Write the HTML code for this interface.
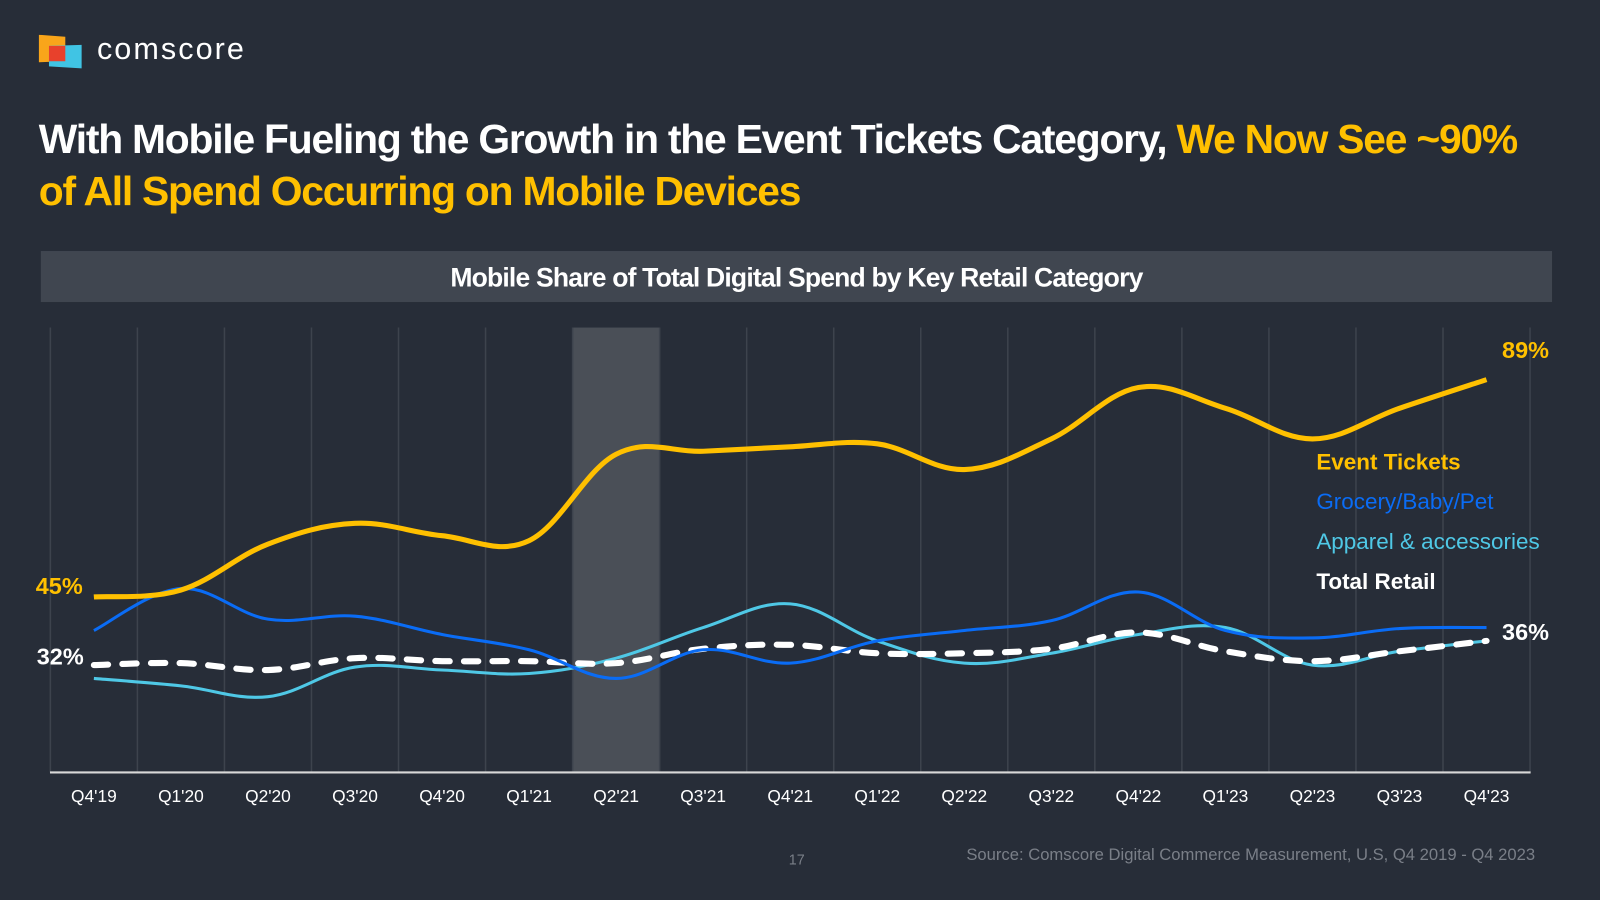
<!DOCTYPE html>
<html><head><meta charset="utf-8">
<style>
html,body{margin:0;padding:0;background:#272d38;width:1600px;height:900px;overflow:hidden;font-family:"Liberation Sans",sans-serif}
#wrap{position:absolute;left:0;top:0;width:1568px;height:882px;transform:scale(1.020408);transform-origin:0 0}
.t{position:absolute;white-space:nowrap}
</style></head><body>
<div id="wrap">
<svg class="t" style="left:38px;top:34px" width="44" height="34">
<polygon points="0,0 26,2 26,26 0,27" fill="#f9a51a"/>
<polygon points="10,11 42,10 42,33 10,31" fill="#40c4e4"/>
<polygon points="10,11 26,11 26,26 10,26" fill="#e8412c"/>
</svg>
<div class="t" style="left:95px;top:32px;font-size:30px;color:#fff;letter-spacing:2px">comscore</div>
<div class="t" style="left:38px;top:112px;font-size:40px;font-weight:bold;color:#fff;letter-spacing:-1.2px;line-height:51px">With Mobile Fueling the Growth in the Event Tickets Category, <span style="color:#ffc000">We Now See ~90%</span><br><span style="color:#ffc000">of All Spend Occurring on Mobile Devices</span></div>
<div class="t" style="left:40px;top:246px;width:1481px;height:50px;background:#404650;color:#fff;font-size:26px;font-weight:bold;letter-spacing:-0.8px;text-align:center;line-height:52px">Mobile Share of Total Digital Spend by Key Retail Category</div>
<svg id="chart" class="t" style="left:0;top:0" width="1568" height="882"></svg>
<div class="t" style="left:773px;top:834px;font-size:14px;color:#7a7f88">17</div>
<div class="t" style="left:947px;top:829px;font-size:16.3px;color:#7a7f88">Source: Comscore Digital Commerce Measurement, U.S, Q4 2019 - Q4 2023</div>
<div class="t" style="left:1290px;top:440px;font-size:22px;font-weight:bold;color:#ffc000">Event Tickets</div>
<div class="t" style="left:1290px;top:479px;font-size:22px;color:#0a6cf5">Grocery/Baby/Pet</div>
<div class="t" style="left:1290px;top:518px;font-size:22px;color:#4fc8e6">Apparel &amp; accessories</div>
<div class="t" style="left:1290px;top:557px;font-size:22px;font-weight:bold;color:#fff">Total Retail</div>
<div class="t" style="left:1472px;top:330px;font-size:23px;font-weight:bold;color:#ffc000">89%</div>
<div class="t" style="left:1472px;top:606px;font-size:23px;font-weight:bold;color:#fff">36%</div>
<div class="t" style="left:35px;top:561px;font-size:23px;font-weight:bold;color:#ffc000">45%</div>
<div class="t" style="left:36px;top:630px;font-size:23px;font-weight:bold;color:#fff">32%</div>
</div>
<script>
const categories=["Q4'19","Q1'20","Q2'20","Q3'20","Q4'20","Q1'21","Q2'21","Q3'21","Q4'21","Q1'22","Q2'22","Q3'22","Q4'22","Q1'23","Q2'23","Q3'23","Q4'23"];
const eventTickets=[45,46.4,55.7,59.9,57.4,56.4,73.9,74.5,75.4,76,70.8,77,87.4,83.2,77,83.2,89];
const grocery=[38.2,46.7,40.5,41.1,37.4,34.3,28.5,34.3,31.6,36.1,38.2,40.2,46,38.2,36.7,38.6,38.8];
const apparel=[28.5,27,24.8,30.8,30.2,29.5,32.6,38.8,43.6,36.1,31.6,33.6,37.4,38.8,31.2,34,36.1];
const totalRetail=[31.2,31.6,30.2,32.6,32,32,31.6,34.5,35.3,33.6,33.6,34.5,37.8,34,32,34,36.1];
const highlightIndex=6;
const NS="http://www.w3.org/2000/svg";
const svg=document.getElementById('chart');
const x0=92,step=85.3,axisY=757,topY=321;
const xs=i=>x0+i*step;
const ys=v=>585-(v-45)*4.84;
function mk(tag,attrs){const e=document.createElementNS(NS,tag);for(const k in attrs)e.setAttribute(k,attrs[k]);svg.appendChild(e);return e;}
const band=mk('rect',{x:xs(highlightIndex)-step/2,y:topY,width:step,height:axisY-topY,fill:'#4a4f57'});


for(let i=0;i<=categories.length;i++){
  const g=mk('line',{x1:xs(i)-step/2,x2:xs(i)-step/2,y1:topY,y2:axisY,stroke:'#3d434d','stroke-width':1.5});
  
  
}
const ax=mk('line',{x1:49,x2:1500,y1:axisY,y2:axisY,stroke:'#d8d8d8','stroke-width':2});


categories.forEach((c,i)=>{
  const t=mk('text',{x:xs(i),y:786,fill:'#fff','font-size':17,'text-anchor':'middle','font-family':'Liberation Sans, sans-serif'});
  t.textContent=c;
  
  
});
function path(vals){
  const p=vals.map((v,i)=>[xs(i),ys(v)]);
  let d=`M${p[0][0]},${p[0][1]}`;
  for(let i=0;i<p.length-1;i++){
    const a=p[Math.max(0,i-1)],b=p[i],c=p[i+1],e=p[Math.min(p.length-1,i+2)];
    const t=0.18;
    d+=` C${b[0]+(c[0]-a[0])*t},${b[1]+(c[1]-a[1])*t} ${c[0]-(e[0]-b[0])*t},${c[1]-(e[1]-b[1])*t} ${c[0]},${c[1]}`;
  }
  return d;
}
const la=mk('path',{d:path(apparel),fill:'none',stroke:'#4fc8e6','stroke-width':3});


const lt=mk('path',{d:path(totalRetail),fill:'none',stroke:'#fff','stroke-width':6,'stroke-dasharray':'14 14','stroke-linecap':'round'});


const lg=mk('path',{d:path(grocery),fill:'none',stroke:'#0a6cf5','stroke-width':3});


const le=mk('path',{d:path(eventTickets),fill:'none',stroke:'#ffc000','stroke-width':5});


</script>
</body></html>
